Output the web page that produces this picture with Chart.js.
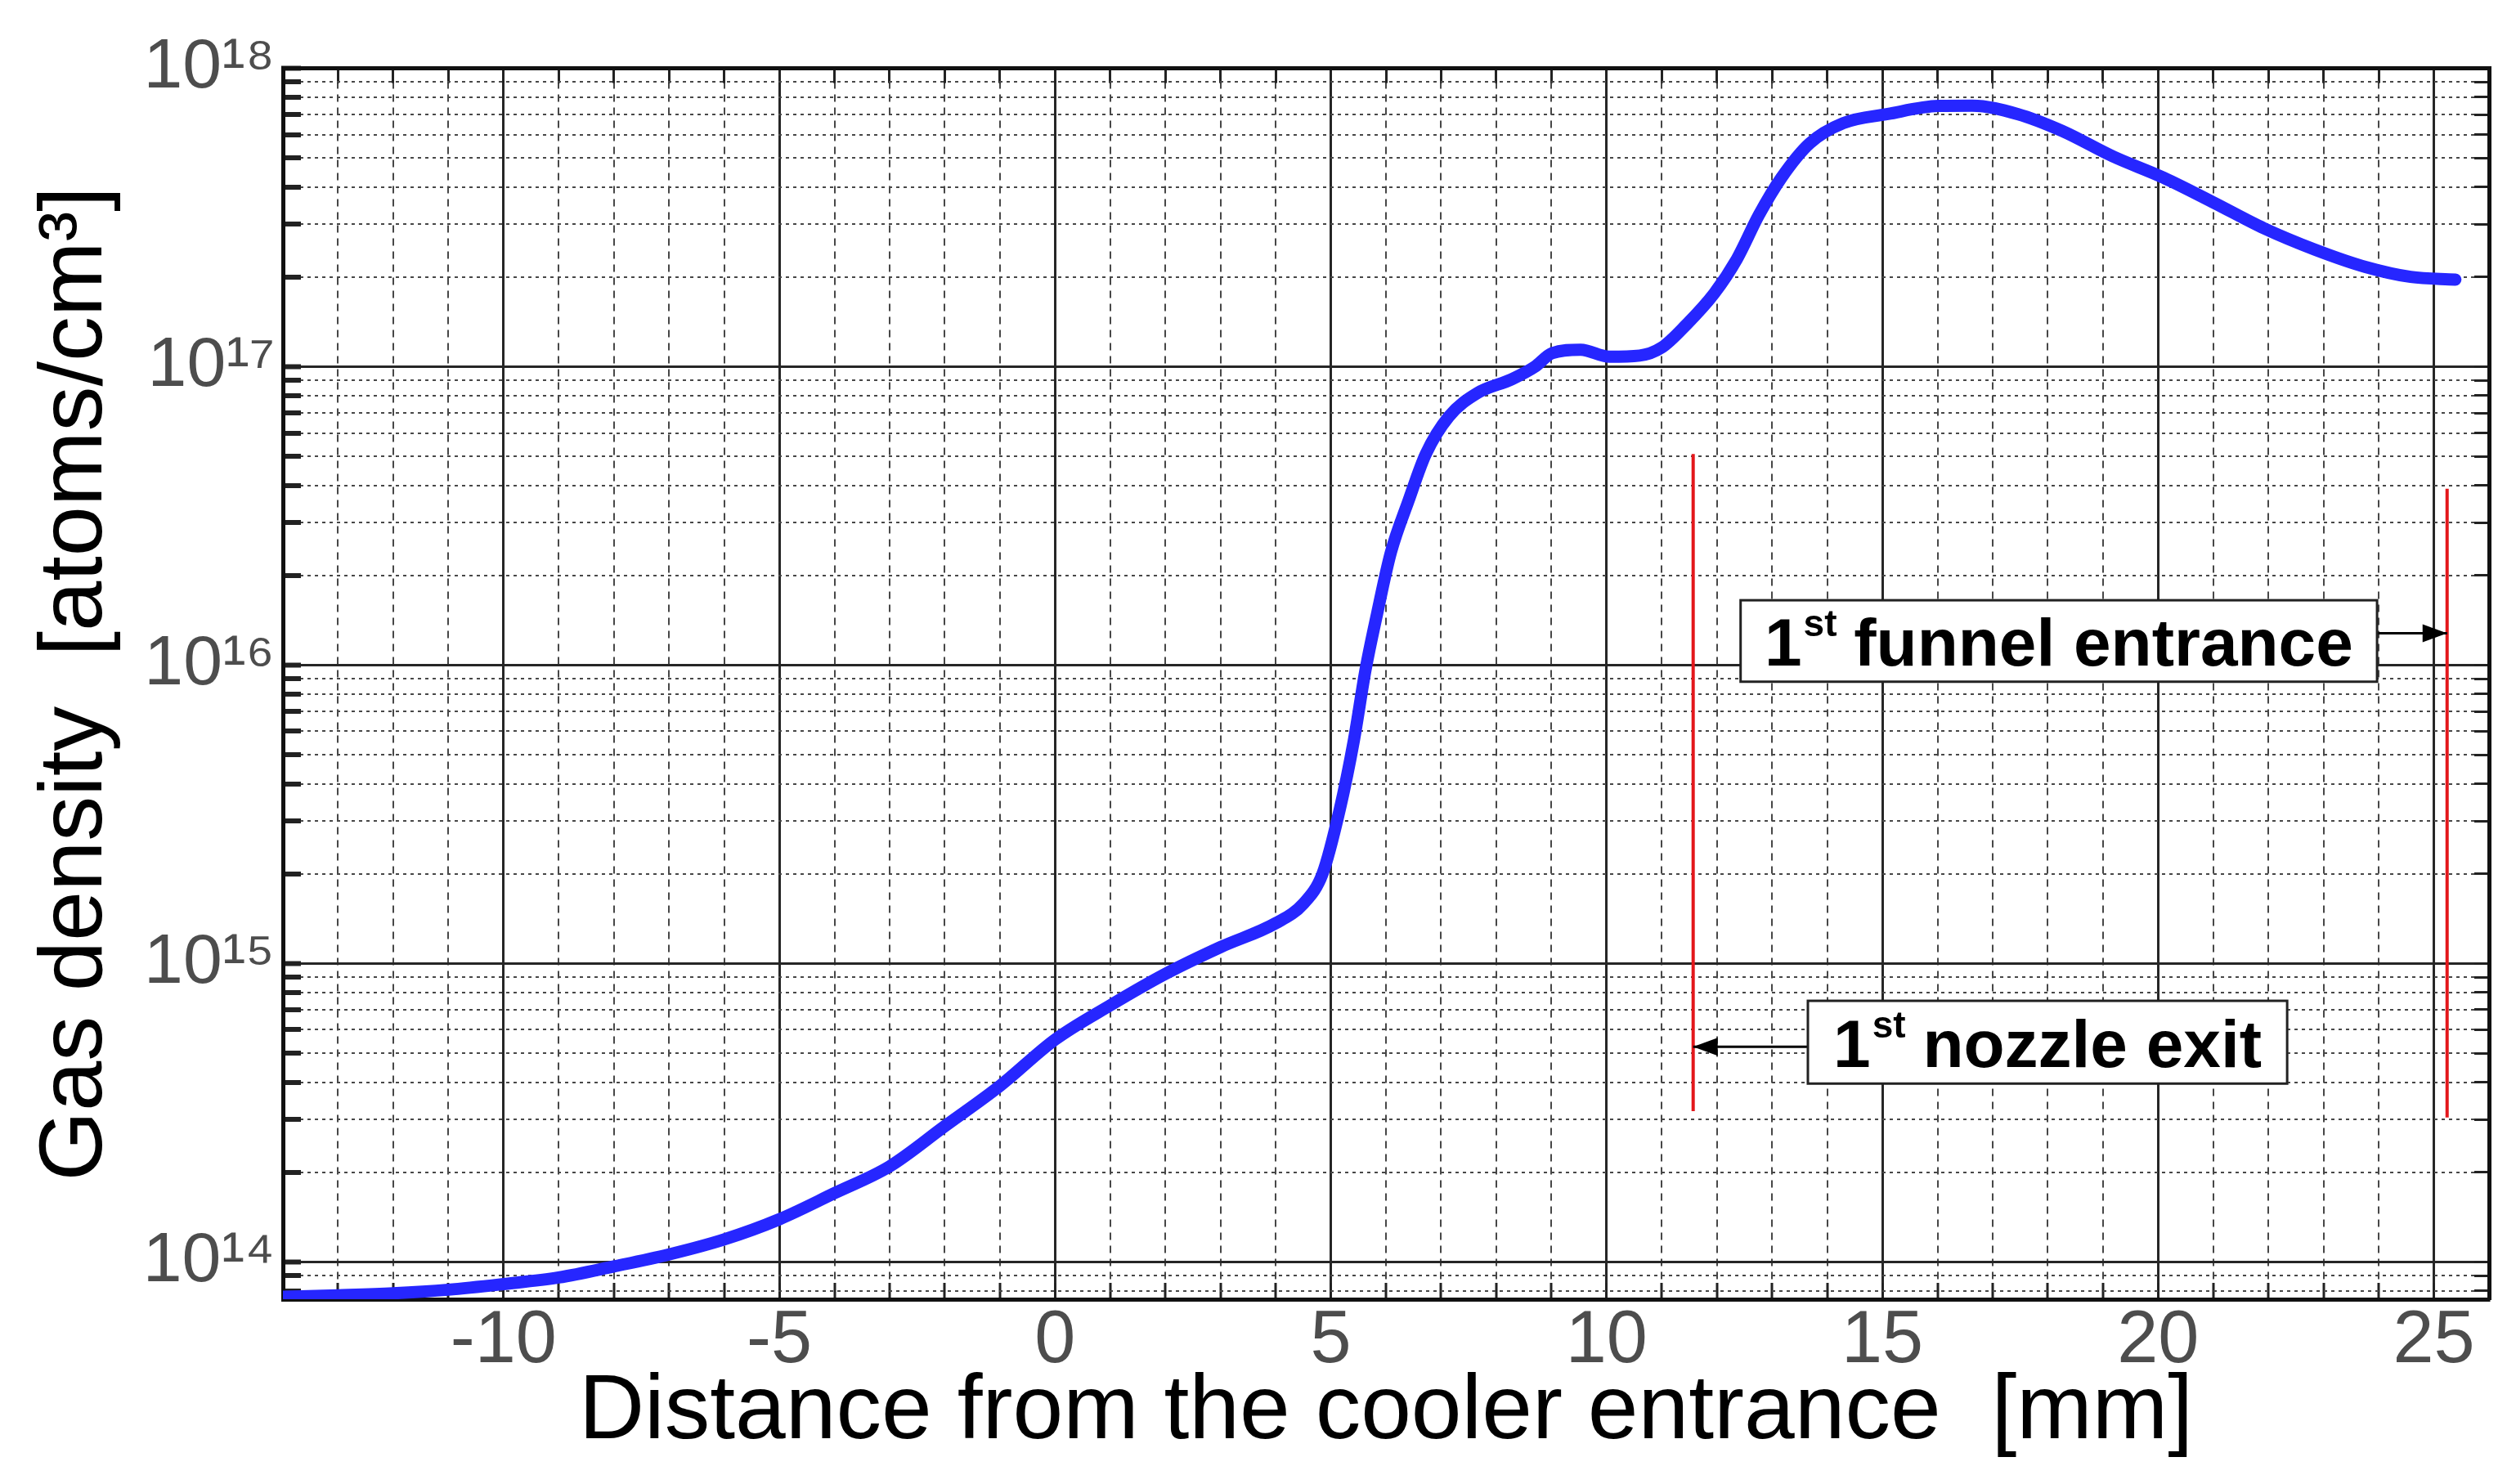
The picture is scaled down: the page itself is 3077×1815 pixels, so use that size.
<!DOCTYPE html>
<html>
<head>
<meta charset="utf-8">
<script src="https://cdn.jsdelivr.net/npm/chart.js@4/dist/chart.umd.min.js"></script>
<style>
  html, body { margin: 0; padding: 0; background: #ffffff; }
  #wrap { width: 3077px; height: 1815px; }
</style>
</head>
<body>
<div id="wrap"><canvas id="c" width="3077" height="1815"></canvas></div>
<script>
// ---- data ----
const distanceMm = [-14, -13, -12, -11, -10, -9, -8, -7, -6, -5, -4, -3, -2, -1, 0, 1, 2, 3, 4,
  4.5, 4.85, 5.16, 5.42, 5.63, 5.84, 6.09, 6.41, 6.72, 7.14, 7.66, 8.28, 8.7, 9.01, 9.53, 10.05,
  10.6, 11.0, 11.44, 11.95, 12.36, 12.76, 13.17, 13.68, 14.29, 15.1, 16.02, 16.63, 17.45, 18.26,
  19.18, 20.1, 21.02, 21.92, 22.84, 23.76, 24.58, 25.39];
const gasDensity = [7.64e13, 7.73e13, 7.85e13, 8.07e13, 8.43e13, 8.87e13, 9.66e13, 1.06e14, 1.19e14,
  1.39e14, 1.70e14, 2.09e14, 2.85e14, 3.89e14, 5.56e14, 7.24e14, 9.23e14, 1.135e15, 1.365e15,
  1.585e15, 2.0e15, 3.27e15, 5.62e15, 9.66e15, 1.49e16, 2.39e16, 3.56e16, 5.09e16, 6.81e16,
  8.17e16, 9.08e16, 1.0e17, 1.11e17, 1.14e17, 1.08e17, 1.09e17, 1.16e17, 1.38e17, 1.76e17,
  2.29e17, 3.22e17, 4.30e17, 5.60e17, 6.55e17, 7.03e17, 7.48e17, 7.50e17, 7.03e17, 6.17e17,
  5.07e17, 4.30e17, 3.54e17, 2.91e17, 2.47e17, 2.16e17, 2.0e17, 1.96e17];

const nozzleExitX = [11.57, 11.57];
const nozzleExitY = [3.2e14, 5.1e16];
const funnelEntranceX = [25.24, 25.24];
const funnelEntranceY = [3.05e14, 3.9e16];

const xRange = [-14, 26];
const yRange = [7.5e13, 1e18];
const xTickLabels = [-10, -5, 0, 5, 10, 15, 20, 25];
const yTickDecades = [13, 14, 15, 16, 17, 18];
const yLabelDecades = [14, 15, 16, 17, 18];

const xTitle = 'Distance from the cooler entrance  [mm]';
const yTitle = 'Gas density  [atoms/cm\u00B3]';

// ---- helpers ----
const SUP = {'0':'\u2070','1':'\u00B9','2':'\u00B2','3':'\u00B3','4':'\u2074','5':'\u2075','6':'\u2076','7':'\u2077','8':'\u2078','9':'\u2079'};
const sup = s => String(s).split('').map(c => SUP[c] || c).join('');
const isDecade = v => { const l = Math.log10(v); return Math.abs(l - Math.round(l)) < 1e-9; };
const isMajorX = v => Math.abs(v % 5) < 1e-9;

const FONT = "'Liberation Sans', Arial, sans-serif";

function toXY(xs, ys) { return xs.map((x, i) => ({x: x, y: ys[i]})); }

const annotationBoxes = [
  {lead: '1', sup: 'st', text: ' funnel entrance', left: 12.43, right: 23.97, top: 1.65e16, bottom: 8.8e15,
   arrowY: 1.28e16, arrowTo: funnelEntranceX[0], side: 'right'},
  {lead: '1', sup: 'st', text: ' nozzle exit', left: 13.65, right: 22.34, top: 7.5e14, bottom: 3.96e14,
   arrowY: 5.26e14, arrowTo: nozzleExitX[0], side: 'left'}
];

const annotationPlugin = {
  id: 'boxes',
  afterDatasetsDraw(chart) {
    const ctx = chart.ctx, xs = chart.scales.x, ys = chart.scales.y;
    ctx.save();
    annotationBoxes.forEach(b => {
      const l = xs.getPixelForValue(b.left), r = xs.getPixelForValue(b.right);
      const t = ys.getPixelForValue(b.top), bt = ys.getPixelForValue(b.bottom);
      const ay = ys.getPixelForValue(b.arrowY), ax = xs.getPixelForValue(b.arrowTo);
      // arrow
      ctx.strokeStyle = '#000'; ctx.fillStyle = '#000'; ctx.lineWidth = 3;
      const from = b.side === 'right' ? r : l;
      ctx.beginPath(); ctx.moveTo(from, ay); ctx.lineTo(ax, ay); ctx.stroke();
      const dir = b.side === 'right' ? 1 : -1;
      ctx.beginPath();
      ctx.moveTo(ax, ay);
      ctx.lineTo(ax - dir * 30, ay - 11);
      ctx.lineTo(ax - dir * 30, ay + 11);
      ctx.closePath(); ctx.fill();
      // box
      ctx.fillStyle = '#fff';
      ctx.fillRect(l, t, r - l, bt - t);
      ctx.lineWidth = 3; ctx.strokeStyle = '#222';
      ctx.strokeRect(l, t, r - l, bt - t);
      // text
      const big = "bold 82px " + FONT, small = "bold 46px " + FONT;
      ctx.font = big; const w1 = ctx.measureText(b.lead).width; const w3 = ctx.measureText(b.text).width;
      ctx.font = small; const w2 = ctx.measureText(b.sup).width;
      const total = w1 + w2 + w3;
      let x0 = (l + r) / 2 - total / 2;
      const base = (t + bt) / 2 + 30;
      ctx.fillStyle = '#000'; ctx.textBaseline = 'alphabetic'; ctx.textAlign = 'left';
      ctx.font = big; ctx.fillText(b.lead, x0, base);
      ctx.font = small; ctx.fillText(b.sup, x0 + w1 + 2, base - 36);
      ctx.font = big; ctx.fillText(b.text, x0 + w1 + w2, base);
    });
    ctx.restore();
  }
};

function buildYTicks(scale) {
  const t = [];
  yTickDecades.forEach(e => {
    for (let m = 1; m <= 9; m++) {
      const v = m * Math.pow(10, e);
      if (v >= yRange[0] * 0.999 && v <= yRange[1] * 1.001) t.push({value: v, major: m === 1});
    }
  });
  scale.ticks = t;
}

const gridColorX = c => (c.tick && isMajorX(c.tick.value)) ? '#262626' : '#474747';
const gridWidthX = c => (c.tick && isMajorX(c.tick.value)) ? 3 : 2;
const gridDashX = c => (c.tick && !isMajorX(c.tick.value)) ? [9, 7] : [];
const gridColorY = c => (c.tick && isDecade(c.tick.value)) ? '#262626' : '#474747';
const gridWidthY = c => (c.tick && isDecade(c.tick.value)) ? 3 : 2;
const gridDashY = c => (c.tick && !isDecade(c.tick.value)) ? [4, 5] : [];

new Chart(document.getElementById('c'), {
  type: 'line',
  data: {
    datasets: [
      {data: toXY(distanceMm, gasDensity), borderColor: '#2626ff', borderWidth: 15,
       pointRadius: 0, cubicInterpolationMode: 'monotone', borderCapStyle: 'round', borderJoinStyle: 'round',
       fill: false, order: 1},
      {data: toXY(nozzleExitX, nozzleExitY), borderColor: '#e3171b', borderWidth: 4, pointRadius: 0, order: 2},
      {data: toXY(funnelEntranceX, funnelEntranceY), borderColor: '#e3171b', borderWidth: 4, pointRadius: 0, order: 2}
    ]
  },
  options: {
    responsive: false,
    animation: false,
    devicePixelRatio: 1,
    layout: {padding: {left: 0, right: 33, top: 80, bottom: 0}},
    plugins: {legend: {display: false}, tooltip: {enabled: false}},
    scales: {
      x: {
        type: 'linear', position: 'bottom', min: xRange[0], max: xRange[1],
        afterBuildTicks: s => { const t = []; for (let v = xRange[0]; v <= xRange[1]; v++) t.push({value: v}); s.ticks = t; },
        afterFit: s => { s.height = 226; },
        ticks: {
          autoSkip: false, maxRotation: 0, padding: 18, color: '#4d4d4d',
          font: {family: FONT, size: 90},
          callback: v => xTickLabels.includes(v) ? String(v) : ''
        },
        grid: {color: gridColorX, lineWidth: gridWidthX, tickLength: -20, tickWidth: 3, tickColor: '#222'},
        border: {display: true, color: '#111', width: 5, dash: gridDashX},
        title: {display: true, text: xTitle, color: '#000', font: {family: FONT, size: 111},
                padding: {top: 0, bottom: 20}}
      },
      x2: {
        type: 'linear', position: 'top', min: xRange[0], max: xRange[1],
        afterBuildTicks: s => { const t = []; for (let v = xRange[0]; v <= xRange[1]; v++) t.push({value: v}); s.ticks = t; },
        afterFit: s => { s.height = 0; },
        ticks: {display: false, autoSkip: false},
        grid: {drawOnChartArea: false, tickLength: -18, tickWidth: 3, tickColor: '#222'},
        border: {display: true, color: '#111', width: 5}
      },
      y: {
        type: 'logarithmic', position: 'left', min: yRange[0], max: yRange[1],
        afterBuildTicks: buildYTicks,
        afterFit: s => { s.width = 346; },
        ticks: {
          autoSkip: false, padding: 32, color: '#4d4d4d',
          font: {family: FONT, size: 86},
          callback: v => {
            if (!isDecade(v)) return '';
            const e = Math.round(Math.log10(v));
            return yLabelDecades.includes(e) ? '10' + sup(e) : '';
          }
        },
        grid: {color: gridColorY, lineWidth: gridWidthY, tickLength: -22, tickWidth: 6, tickColor: '#222'},
        border: {display: true, color: '#111', width: 5, dash: gridDashY},
        title: {display: true, text: yTitle, color: '#000', font: {family: FONT, size: 110},
                padding: {top: 28, bottom: 0}}
      },
      y2: {
        type: 'logarithmic', position: 'right', min: yRange[0], max: yRange[1],
        afterBuildTicks: buildYTicks,
        afterFit: s => { s.width = 0; },
        ticks: {display: false, autoSkip: false},
        grid: {drawOnChartArea: false, tickLength: -18, tickWidth: 3, tickColor: '#222'},
        border: {display: true, color: '#111', width: 5}
      }
    }
  },
  plugins: [annotationPlugin]
});
</script>
</body>
</html>
